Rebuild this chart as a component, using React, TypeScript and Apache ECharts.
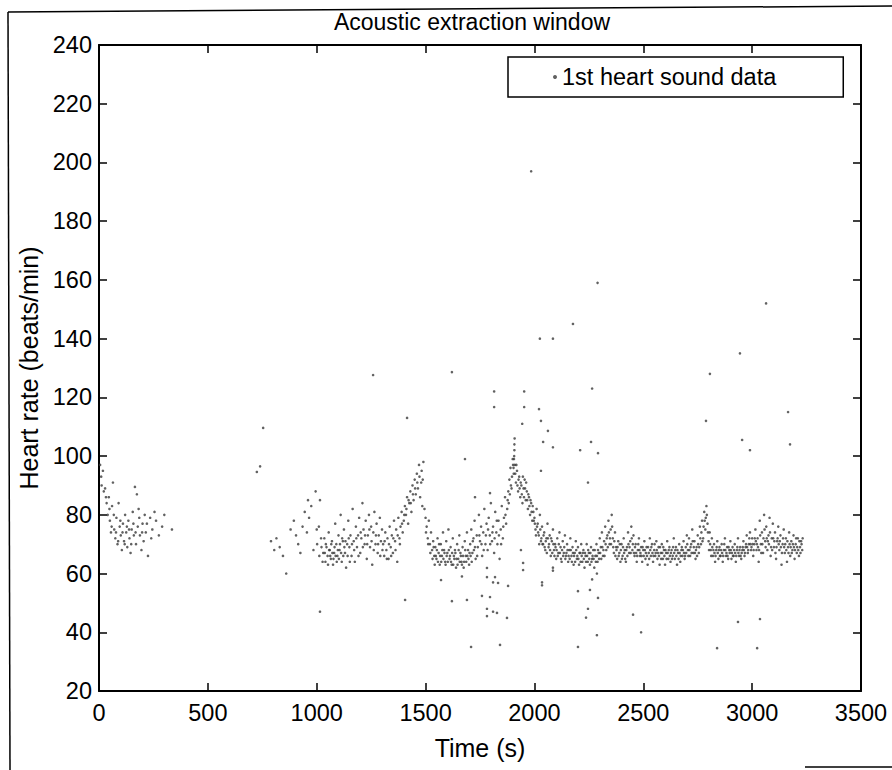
import { useEffect, useRef } from "react";
import * as echarts from "echarts";

const FONT = "'Liberation Sans', Arial, Helvetica, sans-serif";

const seriesName = "1st heart sound data";
const xTickInterval = 500;
const yTickInterval = 20;

// 0 – 340 s
const earlySegment: [number, number][] = [
  [5, 97], [10, 93], [18, 95], [22, 88], [28, 89], [35, 84], [40, 80], [45, 86], [50, 78], [55, 74],
  [60, 83], [64, 91], [70, 75], [75, 72], [80, 79], [85, 70], [90, 84], [95, 76], [100, 73], [105, 68],
  [110, 77], [115, 71], [120, 80], [125, 74], [130, 69], [135, 78], [140, 72], [145, 67], [150, 75], [155, 81],
  [160, 73], [165, 89.5], [170, 70], [174, 87], [178, 76], [182, 82], [188, 73], [195, 68], [200, 77], [205, 71],
  [210, 80], [215, 74], [225, 66], [235, 79], [245, 75], [255, 81], [262, 78], [275, 73], [290, 76], [300, 80], [335, 75],
  [12, 90], [32, 86], [48, 82], [58, 76], [68, 80], [78, 74], [88, 71], [98, 78], [108, 74], [118, 70],
  [128, 76], [138, 75], [148, 70], [158, 77], [168, 74], [185, 79], [198, 74], [220, 77], [240, 72],
];

// 780 – 1300 s
const segment800: [number, number][] = [
  [790, 71], [805, 68], [815, 72], [830, 69], [845, 66], [860, 60], [880, 75], [895, 78], [905, 73], [915, 70],
  [925, 67], [935, 76], [945, 81], [955, 74], [960, 85], [965, 79], [975, 83], [985, 68], [995, 88], [1000, 75],
  [1010, 76], [1015, 85], [1020, 72], [1030, 67], [1035, 72], [1040, 64], [1045, 69], [1050, 66], [1055, 74], [1060, 68],
  [1065, 65], [1070, 71], [1075, 63], [1080, 67], [1085, 77], [1090, 70], [1095, 66], [1100, 73], [1105, 68], [1110, 80],
  [1115, 64], [1120, 71], [1125, 75], [1130, 67], [1135, 62], [1140, 70], [1145, 78], [1150, 69], [1155, 73], [1160, 66],
  [1165, 82], [1170, 71], [1175, 64], [1180, 76], [1185, 69], [1190, 73], [1195, 79], [1200, 67], [1205, 72], [1210, 84],
  [1215, 75], [1220, 70], [1225, 78], [1230, 65], [1235, 73], [1240, 80], [1245, 69], [1250, 76], [1255, 63], [1260, 74],
  [1265, 81], [1270, 70], [1275, 77], [1280, 67], [1285, 73], [1290, 79], [1295, 71], [1300, 75],
  [1002, 70], [1012, 66], [1022, 69], [1027, 64], [1037, 67], [1042, 70], [1052, 63], [1057, 68], [1062, 66], [1067, 70],
  [1072, 67], [1077, 65], [1082, 69], [1087, 66], [1092, 64], [1097, 68], [1102, 65], [1107, 70], [1112, 67], [1117, 72],
  [1122, 66], [1127, 69], [1132, 71], [1142, 66], [1147, 72], [1152, 64], [1162, 70], [1172, 68], [1182, 72], [1192, 66],
  [1202, 74], [1212, 69], [1222, 73], [1232, 70], [1242, 75], [1252, 71], [1262, 68], [1272, 73], [1282, 70], [1292, 66],
];

// 1300 – 1720 s (first peak and trough)
const segment1300: [number, number][] = [
  [1305, 70], [1310, 66], [1315, 74], [1320, 68], [1325, 72], [1330, 65], [1335, 76], [1340, 69], [1345, 73], [1350, 67],
  [1355, 78], [1360, 71], [1365, 75], [1370, 64], [1375, 79], [1380, 72], [1385, 76], [1390, 81], [1395, 74], [1400, 78],
  [1405, 83], [1410, 80], [1415, 86], [1420, 77], [1425, 84], [1430, 88], [1435, 81], [1440, 90], [1445, 85], [1450, 92],
  [1455, 87], [1460, 94], [1465, 89], [1470, 97], [1475, 86], [1480, 91], [1485, 83], [1490, 98], [1495, 82], [1500, 79],
  [1505, 76], [1510, 72], [1515, 78], [1520, 70], [1525, 74], [1530, 68], [1535, 71], [1540, 66], [1545, 69], [1550, 65],
  [1555, 72], [1560, 67], [1565, 63], [1570, 70], [1575, 66], [1580, 74], [1585, 68], [1590, 64], [1595, 71], [1600, 67],
  [1605, 75], [1610, 65], [1615, 69], [1620, 63], [1625, 72], [1630, 66], [1635, 68], [1640, 62], [1645, 70], [1650, 65],
  [1655, 73], [1660, 67], [1665, 64], [1670, 69], [1675, 62], [1680, 71], [1685, 66], [1690, 74], [1695, 68], [1700, 63],
  [1302, 68], [1312, 71], [1322, 65], [1332, 70], [1342, 66], [1352, 72], [1362, 68], [1372, 73], [1382, 70], [1392, 77],
  [1402, 80], [1412, 82], [1422, 85], [1432, 84], [1442, 87], [1452, 89], [1462, 91], [1472, 93], [1482, 95], [1487, 92],
  [1502, 74], [1512, 70], [1522, 67], [1532, 65], [1537, 69], [1542, 63], [1547, 66], [1552, 68], [1557, 64], [1562, 70],
  [1567, 66], [1572, 64], [1577, 68], [1582, 65], [1587, 67], [1592, 63], [1597, 66], [1602, 64], [1607, 68], [1612, 66],
  [1617, 64], [1622, 67], [1627, 63], [1632, 65], [1637, 67], [1642, 65], [1647, 63], [1652, 68], [1657, 64], [1662, 66],
  [1667, 63], [1672, 66], [1677, 64], [1682, 68], [1687, 64], [1692, 66], [1697, 65], [1702, 67], [1712, 64], [1722, 68],
];

// 1700 – 2000 s (second peak)
const segment1700: [number, number][] = [
  [1705, 70], [1710, 75], [1715, 67], [1720, 72], [1725, 78], [1730, 65], [1735, 73], [1740, 69], [1745, 80], [1750, 71],
  [1755, 76], [1760, 66], [1765, 74], [1770, 82], [1775, 70], [1780, 77], [1785, 68], [1790, 79], [1795, 73], [1800, 84],
  [1805, 71], [1810, 76], [1815, 67], [1820, 81], [1825, 74], [1830, 70], [1835, 78], [1840, 65], [1845, 75], [1850, 83],
  [1855, 72], [1860, 79], [1865, 86], [1870, 77], [1875, 82], [1880, 88], [1885, 92], [1890, 96], [1895, 89], [1900, 99],
  [1905, 94], [1907, 100], [1908, 102], [1908, 104], [1909, 106], [1910, 97], [1915, 91], [1920, 95], [1925, 88], [1930, 93],
  [1935, 86], [1940, 90], [1945, 84], [1950, 89], [1955, 92], [1960, 85], [1965, 88], [1970, 82], [1975, 86], [1980, 80],
  [1985, 84], [1990, 78], [1995, 81],
  [1707, 66], [1717, 71], [1727, 69], [1737, 66], [1747, 73], [1757, 70], [1767, 68], [1777, 73], [1787, 75], [1797, 70],
  [1807, 74], [1817, 72], [1827, 78], [1837, 73], [1847, 70], [1857, 76], [1867, 80], [1877, 85],
  [1882, 84], [1887, 87], [1892, 90], [1897, 93], [1902, 97], [1904, 96], [1906, 99], [1912, 94], [1917, 97], [1922, 90],
  [1927, 92], [1932, 89], [1937, 91], [1942, 87], [1947, 93], [1952, 86], [1957, 89], [1962, 91], [1967, 85], [1972, 87],
  [1977, 83], [1982, 85], [1987, 81], [1992, 83], [1997, 78],
];

// 2000 – 2700 s
const segment2000: [number, number][] = [
  [2000, 79], [2005, 75], [2010, 82], [2015, 77], [2020, 73], [2025, 80], [2030, 71], [2035, 76], [2040, 70], [2045, 74],
  [2050, 68], [2055, 72], [2060, 77], [2065, 69], [2070, 73], [2075, 66], [2080, 71], [2085, 75], [2090, 68], [2095, 70],
  [2100, 65], [2105, 72], [2110, 67], [2115, 74], [2120, 69], [2125, 64], [2130, 71], [2135, 67], [2140, 73], [2145, 66],
  [2150, 70], [2155, 64], [2160, 68], [2165, 72], [2170, 66], [2175, 69], [2180, 63], [2185, 67], [2190, 71], [2195, 65],
  [2200, 69], [2205, 63], [2210, 67], [2215, 70], [2220, 64], [2225, 68], [2230, 62], [2235, 66], [2240, 70], [2245, 64],
  [2250, 67], [2255, 63], [2260, 69], [2265, 65], [2270, 68], [2275, 62], [2280, 66], [2285, 70], [2290, 64], [2295, 67],
  [2300, 72], [2305, 69], [2310, 74], [2315, 66], [2320, 71], [2325, 76], [2330, 68], [2335, 73], [2340, 78], [2345, 70],
  [2350, 75], [2355, 80], [2360, 72], [2365, 67], [2370, 74], [2375, 69], [2380, 65], [2385, 71], [2390, 67], [2395, 64],
  [2400, 70], [2405, 66], [2410, 72], [2415, 68], [2420, 64], [2425, 69], [2430, 74], [2435, 67], [2440, 71], [2445, 76],
  [2450, 68], [2455, 73], [2460, 66], [2465, 70], [2470, 64], [2475, 68], [2480, 72], [2485, 66], [2490, 69], [2495, 64],
  [2500, 68], [2505, 71], [2510, 65], [2515, 69], [2520, 63], [2525, 67], [2530, 72], [2535, 66], [2540, 70], [2545, 64],
  [2550, 68], [2555, 66], [2560, 71], [2565, 65], [2570, 69], [2575, 63], [2580, 67], [2585, 70], [2590, 65], [2595, 68],
  [2600, 63], [2605, 67], [2610, 71], [2615, 65], [2620, 69], [2625, 64], [2630, 68], [2635, 66], [2640, 72], [2645, 65],
  [2650, 69], [2655, 63], [2660, 67], [2665, 70], [2670, 64], [2675, 68], [2680, 66], [2685, 71], [2690, 65], [2695, 69],
  [2002, 77], [2007, 73], [2012, 76], [2017, 74], [2022, 70], [2027, 75], [2032, 72], [2037, 70], [2042, 73], [2047, 69],
  [2052, 71], [2057, 67], [2062, 72], [2067, 70], [2072, 68], [2077, 72], [2082, 67], [2087, 70], [2092, 66], [2097, 69],
  [2102, 68], [2107, 66], [2112, 70], [2117, 67], [2122, 65], [2127, 68], [2132, 66], [2137, 69], [2142, 65], [2147, 67],
  [2152, 68], [2157, 66], [2162, 65], [2167, 68], [2172, 64], [2177, 67], [2182, 66], [2187, 64], [2192, 68], [2197, 66],
  [2202, 65], [2207, 67], [2212, 64], [2217, 66], [2222, 67], [2227, 65], [2232, 67], [2237, 64], [2242, 66], [2247, 68],
  [2252, 65], [2257, 67], [2262, 64], [2267, 66], [2272, 65], [2277, 68], [2282, 64], [2287, 66], [2292, 68], [2297, 65],
  [2302, 67], [2307, 65], [2312, 69], [2317, 68], [2322, 66], [2327, 70], [2332, 72], [2337, 69], [2342, 74], [2347, 72],
  [2352, 70], [2357, 76], [2362, 69], [2367, 71], [2372, 66], [2377, 68], [2382, 69], [2387, 66], [2392, 70], [2397, 68],
  [2402, 65], [2407, 69], [2412, 67], [2417, 65], [2422, 68], [2427, 66], [2432, 70], [2437, 69], [2442, 67], [2447, 72],
  [2452, 70], [2457, 67], [2462, 69], [2467, 67], [2472, 66], [2477, 70], [2482, 68], [2487, 67], [2492, 66], [2497, 69],
  [2502, 66], [2507, 68], [2512, 67], [2517, 66], [2522, 69], [2527, 65], [2532, 68], [2537, 69], [2542, 67], [2547, 66],
  [2552, 70], [2557, 67], [2562, 68], [2567, 67], [2572, 66], [2577, 69], [2582, 65], [2587, 67], [2592, 69], [2597, 66],
  [2602, 68], [2607, 65], [2612, 67], [2617, 68], [2622, 66], [2627, 67], [2632, 65], [2637, 69], [2642, 67], [2647, 68],
  [2652, 66], [2657, 68], [2662, 65], [2667, 67], [2672, 66], [2677, 69], [2682, 68], [2687, 67], [2692, 66], [2697, 67],
];

// 2700 – 3240 s
const segment2700: [number, number][] = [
  [2700, 73], [2705, 68], [2710, 72], [2715, 66], [2720, 70], [2725, 75], [2730, 67], [2735, 71], [2740, 65], [2745, 69],
  [2750, 73], [2755, 67], [2760, 76], [2765, 70], [2770, 78], [2775, 72], [2780, 81], [2785, 75], [2790, 83], [2795, 77],
  [2800, 71], [2805, 74], [2810, 68], [2815, 72], [2820, 66], [2825, 70], [2830, 64], [2835, 68], [2840, 71], [2845, 65],
  [2850, 69], [2855, 66], [2860, 70], [2865, 64], [2870, 68], [2875, 72], [2880, 66], [2885, 69], [2890, 65], [2895, 68],
  [2900, 71], [2905, 65], [2910, 69], [2915, 66], [2920, 70], [2925, 64], [2930, 68], [2935, 72], [2940, 66], [2945, 69],
  [2950, 65], [2955, 68], [2960, 71], [2965, 66], [2970, 69], [2975, 73], [2980, 67], [2985, 70], [2990, 74], [2995, 68],
  [3000, 72], [3005, 66], [3010, 70], [3015, 75], [3020, 68], [3025, 72], [3030, 64], [3035, 78], [3040, 70], [3045, 74],
  [3050, 67], [3055, 80], [3060, 71], [3065, 76], [3070, 68], [3075, 73], [3080, 79], [3085, 66], [3090, 72], [3095, 77],
  [3100, 69], [3105, 74], [3110, 65], [3115, 71], [3120, 76], [3125, 68], [3130, 73], [3135, 63], [3140, 70], [3145, 75],
  [3150, 67], [3155, 72], [3160, 64], [3165, 69], [3170, 74], [3175, 66], [3180, 71], [3185, 68], [3190, 73], [3195, 65],
  [3200, 70], [3205, 67], [3210, 72], [3215, 66], [3220, 69], [3225, 71], [3230, 68],
  [2702, 70], [2707, 66], [2712, 68], [2717, 69], [2722, 67], [2727, 71], [2732, 69], [2737, 67], [2742, 68], [2747, 66],
  [2752, 70], [2757, 69], [2762, 72], [2767, 74], [2772, 71], [2777, 76], [2782, 78], [2787, 79], [2792, 80], [2797, 74],
  [2802, 68], [2807, 70], [2812, 66], [2817, 69], [2822, 68], [2827, 67], [2832, 66], [2837, 69], [2842, 67], [2847, 68],
  [2852, 66], [2857, 68], [2862, 67], [2867, 66], [2872, 70], [2877, 68], [2882, 67], [2887, 66], [2892, 69], [2897, 67],
  [2902, 68], [2907, 67], [2912, 66], [2917, 68], [2922, 67], [2927, 66], [2932, 69], [2937, 67], [2942, 68], [2947, 66],
  [2952, 67], [2957, 69], [2962, 68], [2967, 67], [2972, 70], [2977, 69], [2982, 68], [2987, 72], [2992, 70], [2997, 69],
  [3002, 70], [3007, 68], [3012, 72], [3017, 71], [3022, 70], [3027, 69], [3032, 68], [3037, 73], [3042, 67], [3047, 70],
  [3052, 72], [3057, 75], [3062, 69], [3067, 72], [3072, 71], [3077, 70], [3082, 74], [3087, 69], [3092, 68], [3097, 72],
  [3102, 71], [3107, 67], [3112, 69], [3117, 72], [3122, 70], [3127, 71], [3132, 69], [3137, 67], [3142, 72], [3147, 69],
  [3152, 70], [3157, 68], [3162, 71], [3167, 67], [3172, 70], [3177, 69], [3182, 67], [3187, 70], [3192, 69], [3197, 68],
  [3202, 72], [3207, 69], [3212, 68], [3217, 71], [3222, 67], [3227, 70], [3232, 72],
];

const highOutliers: [number, number][] = [
  [725, 94.6], [740, 96.5], [754, 109.6], [1259, 127.6], [1415, 113], [1621, 128.6], [1681, 99], [1727, 86],
  [1796, 87.4], [1815, 122], [1815, 116.7], [1944, 111], [1953, 122], [1953, 116.7], [1985, 197], [2021, 116],
  [2030, 112], [2030, 95], [2040, 104.8], [2062, 108.6], [2085, 103], [2025, 140], [2085, 140], [2177, 145],
  [2210, 102], [2246, 91], [2260, 104.8], [2265, 123], [2292, 101], [2290, 159], [2788, 112], [2806, 128],
  [2944, 135], [2954, 105.5], [2990, 102], [3064, 152], [3165, 115], [3174, 104],
];

const lowOutliers: [number, number][] = [
  [1015, 47], [1406, 51], [1571, 57.8], [1621, 50.6], [1667, 59], [1690, 51], [1709, 35], [1759, 52.4],
  [1782, 61.9], [1782, 58.8], [1782, 48], [1782, 45.5], [1796, 52], [1810, 47], [1810, 57], [1819, 58.8],
  [1828, 46.6], [1833, 56.8], [1842, 35.7], [1874, 44.9], [1879, 55.8], [1938, 68], [1948, 63.6], [1948, 61.2],
  [2035, 57], [2035, 56], [2085, 62], [2085, 61], [2200, 54], [2200, 35], [2237, 45], [2246, 48],
  [2255, 54.4], [2265, 58], [2287, 60], [2287, 39], [2292, 51.7], [2453, 46], [2490, 40], [2839, 34.6],
  [2935, 43.5], [3023, 34.6], [3036, 44.5],
];

const allPoints = [
  ...earlySegment, ...segment800, ...segment1300, ...segment1700,
  ...segment2000, ...segment2700, ...highOutliers, ...lowOutliers,
];

export default function App() {
  const ref = useRef<HTMLDivElement>(null);
  useEffect(() => {
    document.body.style.margin = "0";
    const chart = echarts.init(ref.current!, null, { renderer: "svg" });
    const axisLine = { show: true, onZero: false, lineStyle: { color: "#000", width: 2 } };
    const axisTick = { show: true, inside: true, length: 8, lineStyle: { color: "#000", width: 1.5 } };
    const label = { color: "#000", fontSize: 23.5, fontFamily: FONT, formatter: (v: number) => String(v) };
    chart.setOption({
      animation: false,
      backgroundColor: "#fff",
      title: {
        text: "Acoustic extraction window",
        left: 472,
        top: 10,
        textAlign: "center",
        padding: 0,
        textStyle: { color: "#000", fontSize: 23, fontWeight: "normal", fontFamily: FONT },
      },
      legend: {
        data: [seriesName],
        left: 508,
        top: 57,
        borderColor: "#000",
        borderWidth: 1.5,
        backgroundColor: "#fff",
        padding: [8, 67, 8, 45],
        itemWidth: 4,
        itemHeight: 4,
        icon: "circle",
        textStyle: { color: "#000", fontSize: 23.5, fontFamily: FONT },
      },
      grid: { left: 99, right: 31, top: 45, bottom: 79, show: false },
      xAxis: [
        {
          type: "value", min: 0, max: 3500, interval: xTickInterval, position: "bottom",
          axisLine, axisTick, splitLine: { show: false },
          axisLabel: { ...label, margin: 10 },
          name: "Time (s)", nameLocation: "middle", nameGap: 44,
          nameTextStyle: { color: "#000", fontSize: 25, fontFamily: FONT },
        },
        {
          type: "value", min: 0, max: 3500, interval: xTickInterval, position: "top",
          axisLine, axisTick, splitLine: { show: false }, axisLabel: { show: false },
        },
      ],
      yAxis: [
        {
          type: "value", min: 20, max: 240, interval: yTickInterval, position: "left",
          axisLine, axisTick, splitLine: { show: false },
          axisLabel: { ...label, margin: 7 },
          name: "Heart rate (beats/min)", nameLocation: "middle", nameGap: 53,
          nameTextStyle: { color: "#000", fontSize: 25, fontFamily: FONT },
        },
        {
          type: "value", min: 20, max: 240, interval: yTickInterval, position: "right",
          axisLine, axisTick, splitLine: { show: false }, axisLabel: { show: false },
        },
      ],
      series: [
        {
          type: "scatter",
          name: seriesName,
          data: allPoints,
          symbol: "circle",
          symbolSize: 2.6,
          itemStyle: { color: "#3a3a3a" },
          xAxisIndex: 0,
          yAxisIndex: 0,
        },
      ],
      graphic: [
        { type: "line", shape: { x1: 8, y1: 12, x2: 892, y2: 6 }, style: { stroke: "#000", lineWidth: 1.5 } },
        { type: "line", shape: { x1: 8, y1: 12, x2: 10, y2: 770 }, style: { stroke: "#000", lineWidth: 1.5 } },
        { type: "line", shape: { x1: 805, y1: 767, x2: 892, y2: 767 }, style: { stroke: "#000", lineWidth: 1.5 } },
      ],
    });
    return () => chart.dispose();
  }, []);
  return <div ref={ref} style={{ width: 892, height: 770 }} />;
}
